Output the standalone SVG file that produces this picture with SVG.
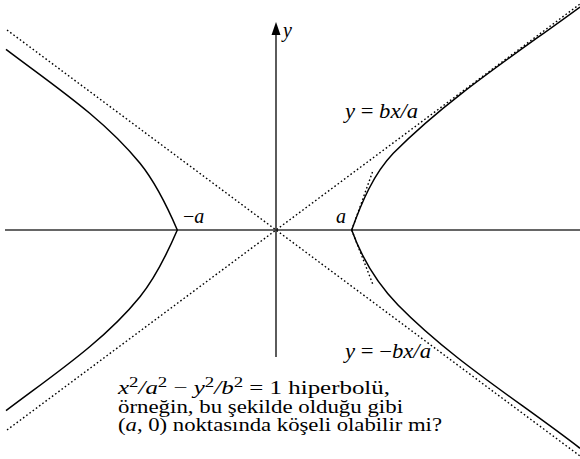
<svg xmlns="http://www.w3.org/2000/svg" width="580" height="459" viewBox="0 0 580 459">
  <style>
    .axis { stroke: #333; stroke-width: 1.6; fill: none; }
    .curve { stroke: #000; stroke-width: 1.5; fill: none; }
    .dot { stroke: #000; stroke-width: 1.4; fill: none; stroke-dasharray: 1.6 2.4; }
    text { font-family: "Liberation Serif", "DejaVu Serif", serif; font-size: 20px; fill: #000; }
    .cap { font-size: 18.5px; }
    .it { font-style: italic; }
    .up { font-style: normal; }
    .sup { font-size: 14px; font-style: normal; }
  </style>
  <g id="axes">
    <line class="axis" x1="5" y1="230" x2="580" y2="230"/>
    <line class="axis" x1="276" y1="357" x2="276" y2="34"/>
    <path id="y-arrowhead" d="M276,22 L280.5,35 L271.5,35 Z" fill="#000"/>
  </g>
  <g id="asymptotes">
    <line class="dot" x1="7" y1="30" x2="580" y2="456"/>
    <line class="dot" x1="7" y1="430" x2="580" y2="4"/>
    <line class="dot" x1="351.7" y1="230" x2="372.5" y2="172"/>
    <line class="dot" x1="351.7" y1="230" x2="373.5" y2="286"/>
  </g>
  <g id="hyperbola">
    <path id="left-branch" class="curve" d="M6,49.3 C52.2,84.4 103.5,118.2 140,163.3 C155.7,182.7 167.4,207 177.3,230 C167.4,253 155.7,277.3 140,296.7 C103.5,341.8 52.2,375.6 6,410.7"/>
    <path id="right-branch" class="curve" d="M580,7 C516,54 448,98 393.3,153.3 C373.3,174.2 361.5,202.7 351.7,230 C361.5,257.3 378,284.3 398,305 C451.9,360 519.2,401.3 580,448.3"/>
  </g>
  <g id="labels">
    <text class="it" x="283" y="37">y</text>
    <text x="183" y="223">−<tspan class="it">a</tspan></text>
    <text class="it" x="336" y="223">a</text>
    <text class="it" x="345" y="118" textLength="73" lengthAdjust="spacingAndGlyphs">y <tspan class="up">=</tspan> bx/a</text>
    <text class="it" x="345" y="358" textLength="86" lengthAdjust="spacingAndGlyphs">y <tspan class="up">= −</tspan>bx/a</text>
  </g>
  <g id="caption">
    <text class="cap" x="118" y="394" textLength="272" lengthAdjust="spacingAndGlyphs"><tspan class="it">x</tspan><tspan class="sup" dy="-7">2</tspan><tspan class="it" dy="7">/a</tspan><tspan class="sup" dy="-7">2</tspan><tspan dy="7"> − </tspan><tspan class="it">y</tspan><tspan class="sup" dy="-7">2</tspan><tspan class="it" dy="7">/b</tspan><tspan class="sup" dy="-7">2</tspan><tspan dy="7"> = 1 hiperbolü,</tspan></text>
    <text class="cap" x="118" y="412.5" textLength="285" lengthAdjust="spacingAndGlyphs">örneğin, bu şekilde olduğu gibi</text>
    <text class="cap" x="118" y="431" textLength="324" lengthAdjust="spacingAndGlyphs">(<tspan class="it">a</tspan>, 0) noktasında köşeli olabilir mi?</text>
  </g>
</svg>
